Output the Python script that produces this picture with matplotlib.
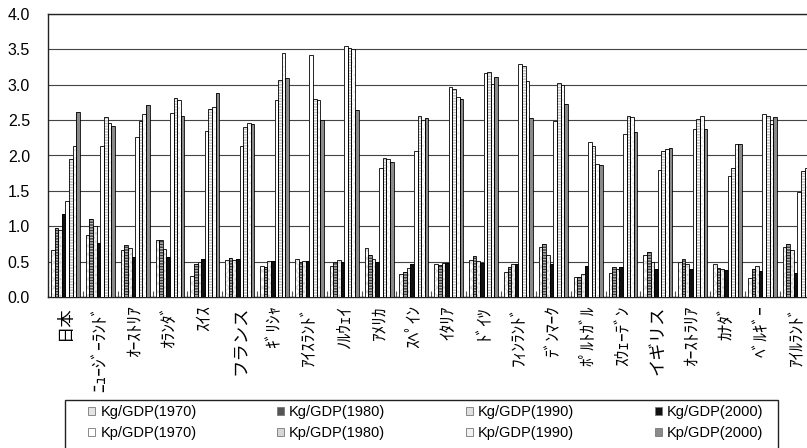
import matplotlib
matplotlib.use("Agg")
import matplotlib.pyplot as plt
from matplotlib.patches import Patch, Rectangle

countries = [
    "日本", "ﾆｭｰｼﾞｰﾗﾝﾄﾞ", "ｵｰｽﾄﾘｱ", "ｵﾗﾝﾀﾞ", "ｽｲｽ", "フランス", "ｷﾞﾘｼｬ",
    "ｱｲｽﾗﾝﾄﾞ", "ﾉﾙｳｪｲ", "ｱﾒﾘｶ", "ｽﾍﾟｲﾝ", "ｲﾀﾘｱ", "ﾄﾞｲﾂ", "ﾌｨﾝﾗﾝﾄﾞ",
    "ﾃﾞﾝﾏｰｸ", "ﾎﾟﾙﾄｶﾞﾙ", "ｽｳｪｰﾃﾞﾝ", "イギリス", "ｵｰｽﾄﾗﾘｱ", "ｶﾅﾀﾞ",
    "ﾍﾞﾙｷﾞｰ", "ｱｲﾙﾗﾝﾄﾞ",
]

kg1970 = [0.67, 0.87, 0.67, 0.80, 0.30, 0.52, 0.44, 0.54, 0.44, 0.69, 0.32,
          0.46, 0.52, 0.36, 0.71, 0.28, 0.34, 0.59, 0.50, 0.47, 0.27, 0.71]
kg1980 = [0.98, 1.10, 0.74, 0.80, 0.46, 0.55, 0.43, 0.49, 0.49, 0.59, 0.35,
          0.45, 0.58, 0.43, 0.75, 0.28, 0.42, 0.64, 0.54, 0.41, 0.40, 0.75]
kg1990 = [0.95, 1.01, 0.69, 0.68, 0.49, 0.53, 0.51, 0.51, 0.52, 0.54, 0.41,
          0.48, 0.51, 0.46, 0.60, 0.32, 0.40, 0.49, 0.46, 0.40, 0.44, 0.67]
kg2000 = [1.17, 0.76, 0.57, 0.56, 0.54, 0.54, 0.51, 0.51, 0.50, 0.50, 0.47,
          0.48, 0.48, 0.46, 0.46, 0.44, 0.42, 0.40, 0.40, 0.38, 0.37, 0.34]
kp1970 = [1.36, 2.14, 2.26, 2.60, 2.35, 2.13, 2.79, 3.42, 3.55, 1.83, 2.06,
          2.97, 3.16, 3.29, 2.49, 2.19, 2.31, 1.79, 2.37, 1.71, 2.58, 1.49]
kp1980 = [1.95, 2.54, 2.49, 2.81, 2.66, 2.40, 3.07, 2.80, 3.52, 1.97, 2.56,
          2.94, 3.18, 3.27, 3.02, 2.14, 2.56, 2.07, 2.52, 1.82, 2.56, 1.78]
kp1990 = [2.14, 2.46, 2.58, 2.78, 2.68, 2.46, 3.45, 2.79, 3.50, 1.95, 2.50,
          2.82, 3.01, 3.05, 2.99, 1.88, 2.54, 2.09, 2.56, 2.16, 2.44, 1.82]
kp2000 = [2.61, 2.41, 2.72, 2.56, 2.89, 2.45, 3.10, 2.50, 2.64, 1.91, 2.53,
          2.80, 3.11, 2.53, 2.73, 1.86, 2.33, 2.10, 2.37, 2.16, 2.54, 1.85]

labels = ["Kg/GDP(1970)", "Kg/GDP(1980)", "Kg/GDP(1990)", "Kg/GDP(2000)",
          "Kp/GDP(1970)", "Kp/GDP(1980)", "Kp/GDP(1990)", "Kp/GDP(2000)"]
series = [kg1970, kg1980, kg1990, kg2000, kp1970, kp1980, kp1990, kp2000]

# face colour, hatch, hatch colour, legend swatch colour
styles = [
    ("white", "xxxx", "#dddddd", "#e4e4e4"),
    ("#3a3a3a", "------", "#bbbbbb", "#555555"),
    ("#f0f0f0", "....", "#c8c8c8", "#e0e0e0"),
    ("#111111", None, "#111111", "#111111"),
    ("white", None, "white", "white"),
    ("white", "------", "#bdbdbd", "#d6d6d6"),
    ("white", "....", "#e6e6e6", "#f2f2f2"),
    ("#8a8a8a", None, "#8a8a8a", "#8a8a8a"),
]

fig = plt.figure(figsize=(8.07, 4.48), dpi=100)
ax = fig.add_axes([48 / 807, 1 - 297 / 448, 766.7 / 807, 283 / 448])

n = len(countries)
w = 0.83 / 8
for j, (vals, (face, hatch, hcol, _)) in enumerate(zip(series, styles)):
    xs = [i + 0.085 + (j + 0.5) * w for i in range(n)]
    ax.bar(xs, vals, w, color=face, edgecolor=hcol, hatch=hatch, linewidth=0, zorder=3)
    ax.bar(xs, vals, w, fill=False, edgecolor="black", linewidth=0.6, zorder=4)

ax.set_xlim(0, n)
ax.set_ylim(0, 4.0)
ax.set_yticks([0, 0.5, 1.0, 1.5, 2.0, 2.5, 3.0, 3.5, 4.0])
ax.set_yticklabels(["0.0", "0.5", "1.0", "1.5", "2.0", "2.5", "3.0", "3.5", "4.0"],
                   family="Liberation Sans", fontsize=11.5)
ax.tick_params(axis="y", length=0, pad=13)
ax.grid(axis="y", color="#444444", linewidth=0.8, zorder=0)
ax.set_axisbelow(True)

ax.set_xticks([i + 0.5 for i in range(n)])
ax.set_xticklabels(countries, rotation=90, family=["Noto Sans CJK JP", "DejaVu Sans"],
                   fontsize=12.5, va="top", ha="center")
ax.tick_params(axis="x", length=0, pad=6)
ax.set_xticks(list(range(1, n)), minor=True)
ax.tick_params(axis="x", which="minor", direction="in", length=4, width=0.8, color="#555555")

for s in ["left", "bottom", "top"]:
    ax.spines[s].set_linewidth(1.0)
    ax.spines[s].set_color("#222222")
ax.spines["right"].set_visible(False)

# legend fills column by column, so interleave Kg / Kp to get rows
order = [0, 4, 1, 5, 2, 6, 3, 7]
handles = [Patch(facecolor=styles[k][3], edgecolor="#777777", linewidth=0.6) for k in order]
fig.legend(handles, [labels[k] for k in order], ncol=4, loc="upper left",
           bbox_to_anchor=(88 / 807, 1 - 405 / 448), frameon=False,
           prop={"family": "Liberation Sans", "size": 10.5},
           handlelength=0.5, handleheight=0.5, handletextpad=0.35,
           columnspacing=5.5, labelspacing=0.5, borderpad=0, borderaxespad=0)
fig.patches.append(Rectangle((65 / 807, 1 - 460 / 448), 713 / 807, 60 / 448,
                             transform=fig.transFigure, fill=False,
                             edgecolor="#222222", linewidth=1.0))

fig.savefig("out.png", dpi=100)
